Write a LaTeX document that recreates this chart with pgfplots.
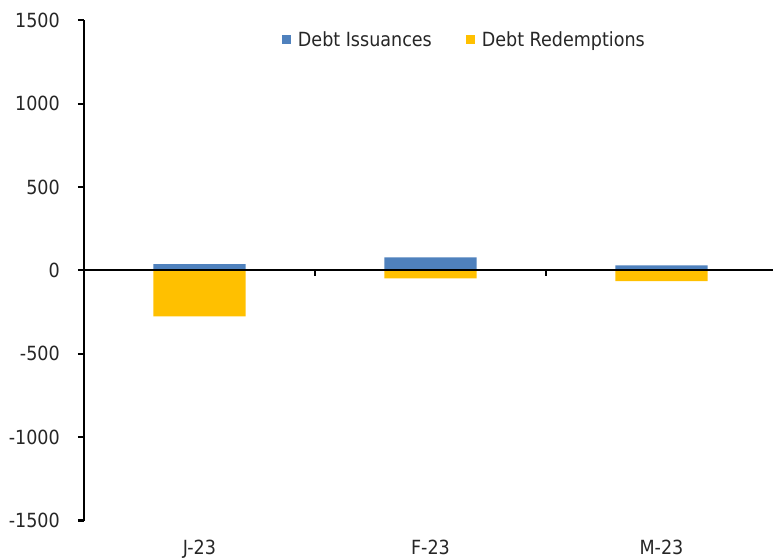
\documentclass[border=0pt]{standalone}
\usepackage{fontspec}
\setmainfont{DejaVu Sans Condensed}
\usepackage{pgfplots}
\pgfplotsset{compat=1.18}
\definecolor{issblue}{RGB}{79,129,189}
\definecolor{redyellow}{RGB}{255,192,0}
\definecolor{txt}{RGB}{38,38,38}
\begin{document}
\begin{tikzpicture}
\useasboundingbox (-84bp,-39.5bp) rectangle (689bp,520.5bp);
\begin{axis}[
  scale only axis,
  width=689bp, height=500bp,
  xmin=-0.5, xmax=2.483,
  ymin=-1500, ymax=1500,
  axis y line*=left,
  axis x line*=bottom,
  x axis line style={draw=none},
  y axis line style={black, line width=2bp},
  xtick={0,1,2},
  xticklabels={J-23,F-23,M-23},
  x tick style={draw=none},
  ytick={-1500,-1000,-500,0,500,1000,1500},
  yticklabels={-1500,-1000,-500,0,500,1000,1500},
  y tick style={black, line width=2bp},
  tick align=outside,
  major tick length=6bp,
  tick label style={font=\fontsize{19.5bp}{23bp}\selectfont, text=txt},
  yticklabel style={anchor=east, inner sep=0pt, xshift=-18bp},
  xticklabel style={anchor=base, inner sep=0pt, yshift=-27.5bp},
  ybar, bar shift=0pt, bar width=0.4,
  legend style={at={(0.287,0.961)}, anchor=west, draw=none, fill=none,
    legend columns=2, inner sep=0pt,
    font=\fontsize{19.5bp}{23bp}\selectfont, text=txt,
    /tikz/every odd column/.append style={column sep=5bp},
    /tikz/every even column/.append style={column sep=32bp}},
  legend image code/.code={\fill[#1] (0bp,-4.5bp) rectangle (9bp,4.5bp);},
  clip=false,
]
\addplot[fill=issblue, draw=none] coordinates {(0,38) (1,78) (2,30)};
\addlegendentry{Debt Issuances}
\addplot[fill=redyellow, draw=none] coordinates {(0,-276) (1,-48) (2,-64)};
\addlegendentry{Debt Redemptions}
\draw[black, line width=2bp] (axis cs:-0.5,0) -- (axis cs:2.483,0);
\draw[black, line width=2bp] (axis cs:0.5,0) -- (axis cs:0.5,-36);
\draw[black, line width=2bp] (axis cs:1.5,0) -- (axis cs:1.5,-36);
\end{axis}
\end{tikzpicture}
\end{document}
